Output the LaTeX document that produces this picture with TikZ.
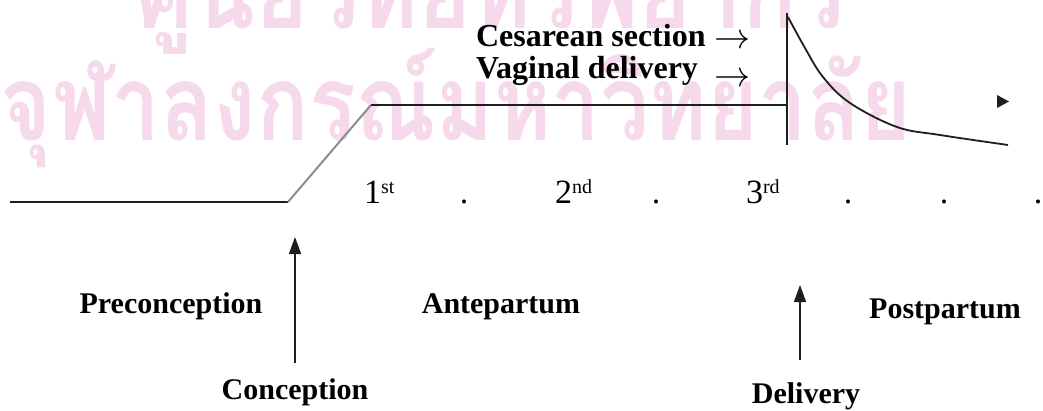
\documentclass[tikz,border=0pt]{standalone}
\usepackage{fontspec}
\setmainfont{Liberation Serif}
\newfontfamily\thaifont[Script=Thai]{Loma}
\usetikzlibrary{arrows.meta, positioning}
\definecolor{cink}{HTML}{1E1E1E}
\definecolor{cslope}{HTML}{8C8C8C}
\definecolor{cmark}{HTML}{F6D9EA}
\newcommand\ordsup[1]{\raisebox{10pt}{\fontsize{20}{20}\selectfont #1}}
\newcommand\routearrow{{\fontsize{24.88}{30}\selectfont\scalebox{1.45}{$\rightarrow$}}}
\tikzset{
  every picture/.style={line width=2pt},
  phasetext/.style={font=\fontsize{30}{36}\selectfont\bfseries, inner sep=0pt, anchor=base},
  routetext/.style={font=\fontsize{32}{38}\selectfont\bfseries, inner sep=0pt, anchor=base west},
  trimtext/.style={font=\fontsize{34}{40}\selectfont, inner sep=0pt, anchor=base west},
  dottext/.style={font=\fontsize{34}{40}\selectfont, inner sep=0pt, anchor=base},
  marktext/.style={font=\thaifont\bfseries\fontsize{105}{110}\selectfont, text=cmark, inner sep=0pt, anchor=base west},
  uparrow/.style={-{Triangle[length=17pt, width=12pt]}, draw=cink, line width=1.6pt},
  course/.style={draw=cink, line width=2pt},
}
\begin{document}
\begin{tikzpicture}[x=1pt, y=-1pt]
  \useasboundingbox (0,0) rectangle (1043,410);
  % watermark
  \begin{scope}
    \clip (0,0) rectangle (1043,410);
    \node[marktext] (markone) at (135,28) {\scalebox{0.86}[1]{ศูนย์วิทยทรัพยากร}};
    \node[marktext] (marktwo) at (0,140) {\scalebox{0.83}[1]{จุฬาลงกรณ์มหาวิทยาลัย}};
  \end{scope}
  % course of pregnancy
  \coordinate (start) at (10,202);
  \coordinate (conc) at (288,202);
  \coordinate (rise) at (371,105);
  \coordinate (birth) at (787,105);
  \coordinate (birthtop) at (787,13);
  \coordinate (birthbot) at (787,145);
  \draw[course] (start) -- (conc);
  \draw[course, draw=cslope] (conc) -- (rise);
  \draw[course] (rise) -- (birth);
  \draw[course] (birthtop) -- (birthbot);
  \draw[course, line width=1.8pt] plot[smooth, tension=0.6] coordinates {(788,17) (805,48) (823,77) (850,103) (897,127) (940,135) (1008,145)};
  \fill[cink] (997,95) -- (1009,101.5) -- (997,108) -- cycle;
  % birth routes
  \node[routetext] (csec) at (475,46) {Cesarean section};
  \node[routetext] (vagin) at (475,78) {Vaginal delivery};
  \node[inner sep=0pt] (csecarr) at (733,42) {\routearrow};
  \node[inner sep=0pt] (vaginarr) at (733,80) {\routearrow};
  % trimesters
  \node[trimtext] (tri1) at (363,203) {1\ordsup{st}};
  \node[trimtext] (tri2) at (554,203) {2\ordsup{nd}};
  \node[trimtext] (tri3) at (745,203) {3\ordsup{rd}};
  \foreach \x [count=\i] in {464, 656, 848, 944, 1038}
    \node[dottext] (dot\i) at (\x,203) {.};
  % events
  \coordinate (concbot) at (295,363);
  \coordinate (conctop) at (295,237);
  \coordinate (delivbot) at (800,360);
  \coordinate (delivtop) at (800,285);
  \draw[uparrow] (concbot) -- (conctop);
  \draw[uparrow] (delivbot) -- (delivtop);
  \node[phasetext] (precon) at (171,313) {Preconception};
  \node[phasetext] (ante) at (501,313) {Antepartum};
  \node[phasetext] (post) at (945,318) {Postpartum};
  \node[phasetext] (concep) at (295,399) {Conception};
  \node[phasetext] (deliv) at (806,403) {Delivery};
\end{tikzpicture}
\end{document}
